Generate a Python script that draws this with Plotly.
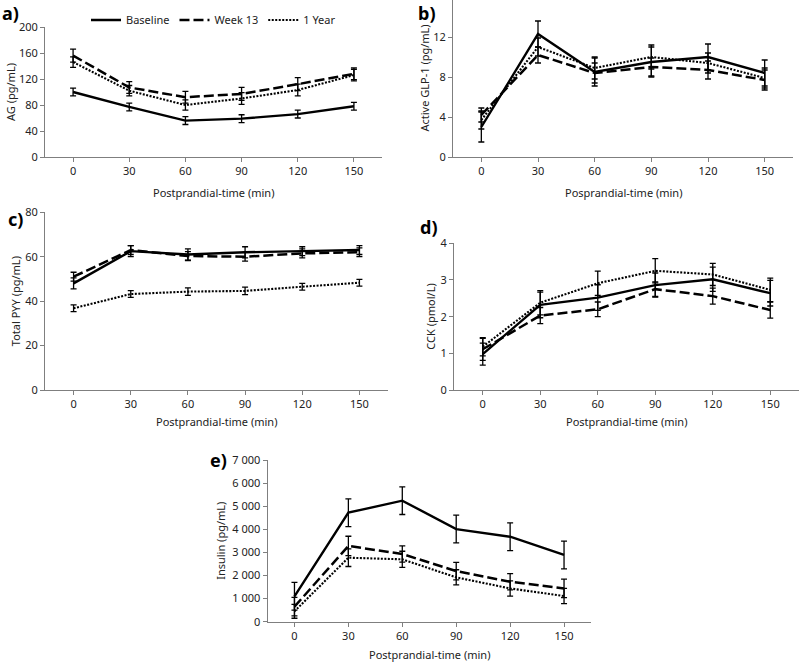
import plotly.graph_objects as go

W, H = 800, 662
time_min = [0, 30, 60, 90, 120, 150]
series_names = ["Baseline", "Week 13", "1 Year"]

# a) AG (pg/mL)
ag_base = [100, 77, 56, 59, 66, 78]
ag_base_err = [6, 6, 6, 6, 6, 6]
ag_w13 = [156, 107, 92, 97, 112, 128]
ag_w13_err = [10, 9, 9, 10, 10, 9]
ag_1y = [146, 102, 80, 90, 103, 126]
ag_1y_err = [8, 8, 8, 9, 9, 9]

# b) Active GLP-1 (pg/mL)
glp_base = [3.0, 12.3, 8.5, 9.5, 10.0, 8.4]
glp_base_err = [1.5, 1.3, 1.4, 1.5, 1.3, 1.3]
glp_w13 = [4.2, 10.2, 8.4, 9.0, 8.7, 7.7]
glp_w13_err = [0.7, 0.8, 1.0, 0.9, 0.9, 1.0]
glp_1y = [3.7, 11.0, 8.9, 10.0, 9.4, 7.9]
glp_1y_err = [0.9, 0.9, 1.1, 1.2, 1.0, 1.0]

# c) Total PYY (pg/mL)
pyy_base = [48, 62.5, 61, 62, 62.5, 63]
pyy_base_err = [2.5, 2.5, 2.5, 2.5, 2.0, 2.0]
pyy_w13 = [51, 63, 60.3, 60, 61.5, 62]
pyy_w13_err = [2.0, 2.0, 2.0, 2.0, 2.0, 2.0]
pyy_1y = [36.8, 43.2, 44.3, 44.6, 46.5, 48.3]
pyy_1y_err = [1.5, 1.5, 1.7, 1.7, 1.5, 1.5]

# d) CCK (pmol/L)
cck_base = [0.98, 2.32, 2.52, 2.86, 3.02, 2.64]
cck_base_err = [0.3, 0.35, 0.35, 0.33, 0.33, 0.35]
cck_w13 = [1.11, 2.03, 2.2, 2.75, 2.56, 2.18]
cck_w13_err = [0.3, 0.22, 0.2, 0.2, 0.22, 0.22]
cck_1y = [1.18, 2.38, 2.91, 3.25, 3.15, 2.73]
cck_1y_err = [0.25, 0.33, 0.33, 0.33, 0.3, 0.32]

# e) Insulin (pg/mL)
ins_base = [1100, 4720, 5240, 4010, 3680, 2890]
ins_base_err = [600, 600, 600, 600, 600, 600]
ins_w13 = [650, 3280, 2930, 2190, 1730, 1440]
ins_w13_err = [400, 420, 350, 380, 350, 400]
ins_1y = [450, 2770, 2700, 1920, 1440, 1110]
ins_1y_err = [300, 380, 350, 330, 330, 330]

y_titles = ["AG (pg/mL)", "Active GLP-1 (pg/mL)", "Total PYY (pg/mL)", "CCK (pmol/L)", "Insulin (pg/mL)"]
x_titles = ["Postprandial-time (min)", "Posprandial-time (min)", "Postprandial-time (min)",
            "Postprandial-time (min)", "Postprandial-time (min)"]
panel_labels = ["a)", "b)", "c)", "d)", "e)"]

panels = [
    ([ag_base, ag_w13, ag_1y], [ag_base_err, ag_w13_err, ag_1y_err]),
    ([glp_base, glp_w13, glp_1y], [glp_base_err, glp_w13_err, glp_1y_err]),
    ([pyy_base, pyy_w13, pyy_1y], [pyy_base_err, pyy_w13_err, pyy_1y_err]),
    ([cck_base, cck_w13, cck_1y], [cck_base_err, cck_w13_err, cck_1y_err]),
    ([ins_base, ins_w13, ins_1y], [ins_base_err, ins_w13_err, ins_1y_err]),
]

# layout geometry in pixels: (left, right, top, bottom), y-range, y-ticks
geo = [
    (45, 382, 27, 157, [0, 200], [0, 40, 80, 120, 160, 200]),
    (453, 793, 0, 157, [0, 15.7], [0, 4, 8, 12]),
    (45, 388, 212.3, 390, [0, 80], [0, 20, 40, 60, 80]),
    (454, 799, 243.3, 390, [0, 4], [0, 1, 2, 3, 4]),
    (267.5, 591, 460, 621.7, [0, 7000], [0, 1000, 2000, 3000, 4000, 5000, 6000, 7000]),
]
label_pos = [(10, 13), (427, 13), (15, 219), (428, 227), (218, 460)]
ytitle_x = [11, 424, 15, 431, 221]
xtitle_y = [192, 192, 421, 421, 654]

dashes = ["solid", "10px,4px", "2px,1.5px"]
widths = [2.4, 2.5, 2.1]

FONT = "Noto Sans"
fig = go.Figure()
annotations = []
layout = {}
for i, ((vals, errs), g) in enumerate(zip(panels, geo)):
    l, r, t, b, yr, yt = g
    xa = "x" if i == 0 else f"x{i+1}"
    ya = "y" if i == 0 else f"y{i+1}"
    for k in range(3):
        fig.add_trace(go.Scatter(
            x=time_min, y=vals[k], mode="lines", name=series_names[k],
            showlegend=(i == 0), xaxis=xa, yaxis=ya,
            line=dict(color="black", width=widths[k], dash=dashes[k]),
            error_y=dict(type="data", array=errs[k], color="black", thickness=1.3, width=3),
        ))
    xkey = "xaxis" if i == 0 else f"xaxis{i+1}"
    ykey = "yaxis" if i == 0 else f"yaxis{i+1}"
    layout[xkey] = dict(
        domain=[l / W, r / W], range=[-15, 165], anchor=ya, automargin=False,
        tickvals=time_min, showgrid=False, zeroline=False,
        showline=True, linecolor="#7f7f7f", linewidth=1,
        ticks="outside", ticklen=4, tickcolor="#7f7f7f",
        tickfont=dict(family=FONT, size=11, color="#222"),
    )
    layout[ykey] = dict(
        domain=[1 - b / H, 1 - t / H], range=yr, anchor=xa, automargin=False,
        tickvals=yt, showgrid=False, zeroline=False,
        showline=True, linecolor="#7f7f7f", linewidth=1,
        ticks="outside", ticklen=4, tickcolor="#7f7f7f",
        tickfont=dict(family=FONT, size=11, color="#222"),
        separatethousands=True,
    )
    cy = (t + b) / 2
    annotations.append(dict(text=y_titles[i], x=ytitle_x[i] / W, y=1 - cy / H,
                            xref="paper", yref="paper", showarrow=False, textangle=-90,
                            xanchor="center", yanchor="middle",
                            font=dict(family=FONT, size=11, color="#222")))
    annotations.append(dict(text=x_titles[i], x=(l + r) / 2 / W, y=1 - xtitle_y[i] / H,
                            xref="paper", yref="paper", showarrow=False,
                            xanchor="center", yanchor="middle",
                            font=dict(family=FONT, size=11, color="#222")))
    lx, ly = label_pos[i]
    annotations.append(dict(text="<b>" + panel_labels[i] + "</b>", x=lx / W, y=1 - ly / H,
                            xref="paper", yref="paper", showarrow=False,
                            xanchor="center", yanchor="middle",
                            font=dict(family=FONT, size=18, color="black")))

fig.update_layout(
    width=W, height=H, margin=dict(l=0, r=0, t=0, b=0, autoexpand=False),
    paper_bgcolor="white", plot_bgcolor="white",
    separators=". ",
    annotations=annotations,
    legend=dict(orientation="h", x=86 / W, y=1 - 20 / H, xanchor="left", yanchor="middle",
                font=dict(family=FONT, size=11, color="#222"), bgcolor="rgba(0,0,0,0)",
                itemwidth=30, tracegroupgap=0),
    showlegend=True,
    **layout,
)
fig.write_html("out.html", config={"displayModeBar": False},
               post_script="document.body.style.margin='0';document.body.style.overflow='hidden';")
